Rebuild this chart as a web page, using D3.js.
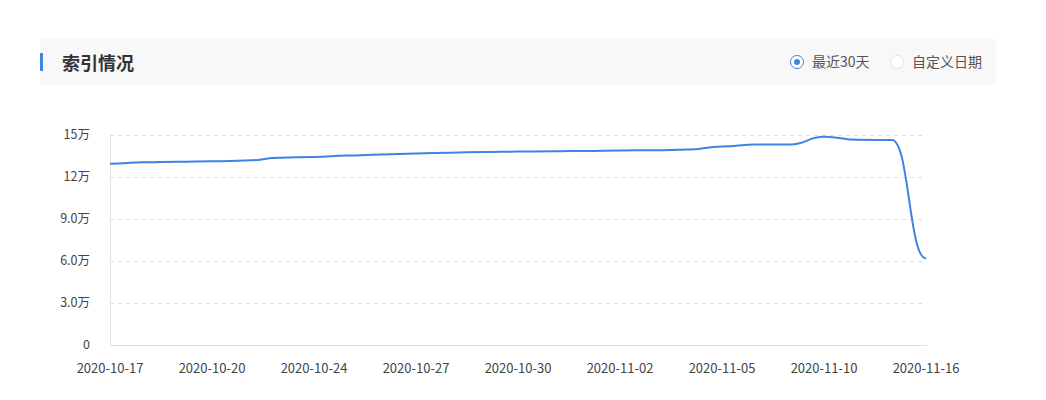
<!DOCTYPE html>
<html>
<head>
<meta charset="utf-8">
<script src="https://cdn.jsdelivr.net/npm/d3@7/dist/d3.min.js"></script>
<style>
  html, body { margin: 0; padding: 0; background: #fff; }
  svg { display: block; font-family: "Noto Sans CJK SC", "Noto Sans", sans-serif; }
</style>
</head>
<body>
<svg id="chart" width="1046" height="400"></svg>
<script>
// ---- data ----
const dates = [
  "2020-10-17","2020-10-18","2020-10-19","2020-10-20","2020-10-21","2020-10-22",
  "2020-10-24","2020-10-25","2020-10-26","2020-10-27","2020-10-28","2020-10-29",
  "2020-10-30","2020-10-31","2020-11-01","2020-11-02","2020-11-03","2020-11-04",
  "2020-11-05","2020-11-07","2020-11-08","2020-11-10","2020-11-12","2020-11-14",
  "2020-11-16"
];
// index count, in 万 (10k)
const indexValues = [
  12.91, 13.02, 13.05, 13.09, 13.14, 13.34,
  13.40, 13.50, 13.58, 13.64, 13.70, 13.75,
  13.78, 13.80, 13.83, 13.86, 13.88, 13.92,
  14.14, 14.28, 14.29, 14.84, 14.62, 14.61,
  6.15
];
const yTickValues = [0, 3, 6, 9, 12, 15];
const yTickLabels = ["0", "3.0万", "6.0万", "9.0万", "12万", "15万"];
const xLabelDates = ["2020-10-17","2020-10-20","2020-10-24","2020-10-27","2020-10-30",
                     "2020-11-02","2020-11-05","2020-11-10","2020-11-16"];
const title = "索引情况";
const radioOptions = ["最近30天", "自定义日期"];

// ---- drawing ----
const svg = d3.select("#chart");
const blue = "#3e84e4";

// header band
svg.append("rect").attr("x", 40).attr("y", 39).attr("width", 956).attr("height", 46)
  .attr("fill", "#f8f8f8");
svg.append("rect").attr("x", 40).attr("y", 53).attr("width", 3).attr("height", 18)
  .attr("fill", blue);
svg.append("text").attr("x", 62).attr("y", 69.5).text(title)
  .attr("font-size", 18).attr("font-weight", "bold").attr("fill", "#333");

// radios
const radioX = [797, 897];
radioOptions.forEach((t, i) => {
  const g = svg.append("g");
  g.append("circle").attr("cx", radioX[i]).attr("cy", 62).attr("r", 6.5)
    .attr("fill", "#fff").attr("stroke", i === 0 ? blue : "#e3e3e3").attr("stroke-width", 1);
  if (i === 0) g.append("circle").attr("cx", radioX[i]).attr("cy", 62).attr("r", 3).attr("fill", blue);
  g.append("text").attr("x", radioX[i] + 15).attr("y", 67).text(t)
    .attr("font-size", 14).attr("fill", "#555");
});

// scales
const x = d3.scalePoint().domain(dates).range([110, 926]);
const y = d3.scaleLinear().domain([0, 15]).range([344.5, 134.5]);

// grid lines
svg.append("g").selectAll("line").data(yTickValues.filter(v => v > 0)).join("line")
  .attr("x1", 110).attr("x2", 926)
  .attr("y1", d => Math.round(y(d)) + 0.5).attr("y2", d => Math.round(y(d)) + 0.5)
  .attr("stroke", "#dcdcdc").attr("stroke-dasharray", "4,4");

// axis lines
svg.append("line").attr("x1", 110.5).attr("x2", 110.5).attr("y1", y(15)).attr("y2", y(0))
  .attr("stroke", "#e6e6e6");
svg.append("line").attr("x1", 110).attr("x2", 927).attr("y1", Math.round(y(0)) + 0.5).attr("y2", Math.round(y(0)) + 0.5)
  .attr("stroke", "#dedede");

// y labels
svg.append("g").selectAll("text").data(yTickValues).join("text")
  .attr("x", 90).attr("y", d => y(d) + 4.5)
  .attr("text-anchor", "end").attr("font-size", 12.5).attr("fill", "#444")
  .text((d, i) => yTickLabels[i]);

// x labels
svg.append("g").selectAll("text").data(xLabelDates).join("text")
  .attr("x", d => x(d)).attr("y", 373)
  .attr("text-anchor", "middle").attr("font-size", 13).attr("fill", "#444")
  .text(d => d);

// line
const line = d3.line()
  .x((d, i) => x(dates[i]))
  .y(d => y(d))
  .curve(d3.curveBumpX);
svg.append("path").datum(indexValues)
  .attr("d", line).attr("fill", "none").attr("stroke", blue).attr("stroke-width", 2);
</script>
</body>
</html>
